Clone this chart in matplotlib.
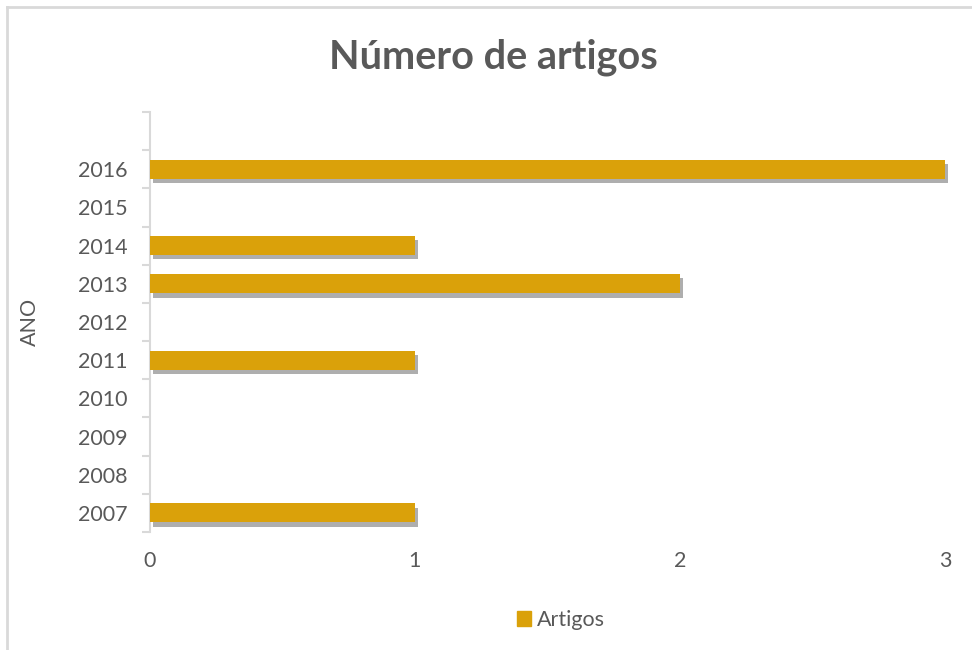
import matplotlib
matplotlib.use('Agg')
import matplotlib.pyplot as plt
import matplotlib.patheffects as pe
from matplotlib.lines import Line2D
from matplotlib.patches import Patch

# data
anos = ['2007', '2008', '2009', '2010', '2011', '2012', '2013', '2014', '2015', '2016']
artigos = [1, 0, 0, 0, 1, 0, 2, 1, 0, 3]

GOLD = '#DAA10A'
GREY_TXT = '#595959'
AXIS_GREY = '#D9D9D9'
FS = 15.5

plt.rcParams['font.family'] = ['Lato', 'DejaVu Sans']

fig = plt.figure(figsize=(9.72, 6.5), dpi=100)
ax = fig.add_axes([0.1543, 0.1815, 0.8179, 0.6462])

y = list(range(len(anos)))
bars = ax.barh(y, artigos, height=0.5, color=GOLD, zorder=3)
for b in bars:
    b.set_clip_on(False)
    b.set_path_effects([pe.SimplePatchShadow(offset=(2, -3), shadow_rgbFace='#8c8c8c', alpha=0.7),
                        pe.Normal()])

ax.set_xlim(0, 3)
ax.set_ylim(-0.5, len(anos) + 0.5)
ax.set_xticks([0, 1, 2, 3])
ax.set_yticks(y)
ax.set_yticklabels(anos)
# tick marks between categories (excel style)
ax.set_yticks([i - 0.5 for i in range(len(anos) + 2)], minor=True)
ax.tick_params(axis='y', which='major', length=0, pad=16, labelsize=FS, labelcolor=GREY_TXT)
ax.tick_params(axis='y', which='minor', length=6, width=1.5, color=AXIS_GREY)
ax.tick_params(axis='x', length=0, pad=14, labelsize=FS, labelcolor=GREY_TXT)

for s in ['top', 'right', 'bottom']:
    ax.spines[s].set_visible(False)
ax.spines['left'].set_color(AXIS_GREY)
ax.spines['left'].set_linewidth(1.5)

ax.set_ylabel('ANO', fontsize=FS, color=GREY_TXT)
ax.yaxis.set_label_coords(-0.138, 0.5)
fig.text(0.508, 0.912, 'Número de artigos', fontsize=28.5, fontweight='bold', color=GREY_TXT,
         ha='center', va='center')

leg = fig.legend(handles=[Patch(color=GOLD)], labels=['Artigos'], loc='center',
                 bbox_to_anchor=(0.577, 0.046), frameon=False, fontsize=FS,
                 handlelength=0.65, handleheight=0.65, handletextpad=0.3)
for t in leg.get_texts():
    t.set_color(GREY_TXT)

# chart area border (top and left visible)
fig.add_artist(Line2D([0.007, 1.0], [0.990, 0.990], color=AXIS_GREY, lw=2, transform=fig.transFigure))
fig.add_artist(Line2D([0.007, 0.007], [0.0, 0.990], color=AXIS_GREY, lw=2, transform=fig.transFigure))

fig.savefig('out.png', dpi=100)
